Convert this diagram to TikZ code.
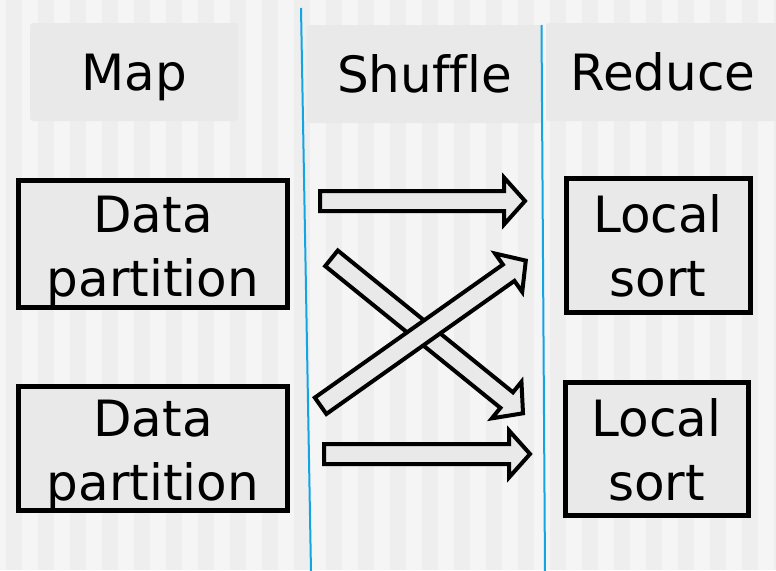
\documentclass[tikz,border=0pt]{standalone}
\usepackage{fontspec}
\setmainfont{DejaVu Sans}[Ligatures=NoCommon]
\usetikzlibrary{calc}
\definecolor{stripeA}{HTML}{F5F5F5}
\definecolor{stripeB}{HTML}{EEEEEE}
\definecolor{boxfill}{HTML}{E9E9E9}
\definecolor{lanecol}{HTML}{12A5E6}
\tikzset{
  hdrbox/.style={fill=boxfill, rounded corners=3pt, inner sep=0pt,
    text height=36.5pt, text depth=0pt,
    font=\fontsize{50}{64}\selectfont},
  procbox/.style={draw=black, fill=boxfill, line width=5pt, inner sep=0pt},
  proctext/.style={align=center, inner sep=0pt, font=\fontsize{50}{64}\selectfont},
  lane/.style={draw=lanecol, line width=2pt},
  arrowbody/.style={draw=black, fill=boxfill, line width=4pt, line join=miter},
}
% block arrow from tail coordinate #1 to tip coordinate #2
\newcommand\blockarrow[2]{%
  \coordinate (hb) at ($(#2)!21pt!(#1)$);
  \draw[arrowbody]
    ($(#1)!10pt!90:(#2)$) -- ($(hb)!10pt!90:(#2)$) -- ($(hb)!23.5pt!90:(#2)$)
    -- (#2)
    -- ($(hb)!23.5pt!-90:(#2)$) -- ($(hb)!10pt!-90:(#2)$) -- ($(#1)!10pt!-90:(#2)$)
    -- cycle;
}
\begin{document}
\begin{tikzpicture}[x=1pt, y=-1pt]
  \useasboundingbox (0,0) rectangle (776,570);
  \clip (0,0) rectangle (776,570);
  % striped background
  \fill[stripeA] (0,0) rectangle (776,570);
  \foreach \k in {0,...,24} {
    \fill[stripeB] ({6+32*\k},0) rectangle ({22+32*\k},570);
  }
  % lane headers
  \node[hdrbox, minimum width=208, minimum height=98] (maphdr) at (134,72) {Map};
  \node[hdrbox, minimum width=236, minimum height=98] (shufhdr) at (424.5,74) {Shuffle};
  \node[hdrbox, minimum width=234, minimum height=98] (redhdr) at (663,72) {Reduce};
  % lane separators
  \draw[lane] (301,8) -- (311,572);
  \draw[lane] (541.5,25) -- (545,572);
  % map boxes
  \node[procbox, minimum width=269, minimum height=127] (dp1) at (153,244) {};
  \node[proctext] (dp1t) at ($(dp1.center)+(0,7.7)$) {Data\\partition};
  \node[procbox, minimum width=269, minimum height=124] (dp2) at (153,448.5) {};
  \node[proctext] (dp2t) at ($(dp2.center)+(0,7.2)$) {Data\\partition};
  % reduce boxes
  \node[procbox, minimum width=184, minimum height=134] (ls1) at (658,245) {};
  \node[proctext] (ls1t) at ($(ls1.center)+(0,1.2)$) {Local\\sort};
  \node[procbox, minimum width=183, minimum height=133] (ls2) at (656.5,448.5) {};
  \node[proctext] (ls2t) at ($(ls2.center)+(0,1.7)$) {Local\\sort};
  % shuffle arrows
  \coordinate (a1s) at (320,201);   \coordinate (a1e) at (525,201);
  \coordinate (a2s) at (331.5,258.3); \coordinate (a2e) at (523,413.3);
  \coordinate (a3s) at (320.6,405.8); \coordinate (a3e) at (525.8,260.6);
  \coordinate (a4s) at (324,454);   \coordinate (a4e) at (530,454);
  \blockarrow{a1s}{a1e}
  \blockarrow{a2s}{a2e}
  \blockarrow{a3s}{a3e}
  \blockarrow{a4s}{a4e}
\end{tikzpicture}
\end{document}
